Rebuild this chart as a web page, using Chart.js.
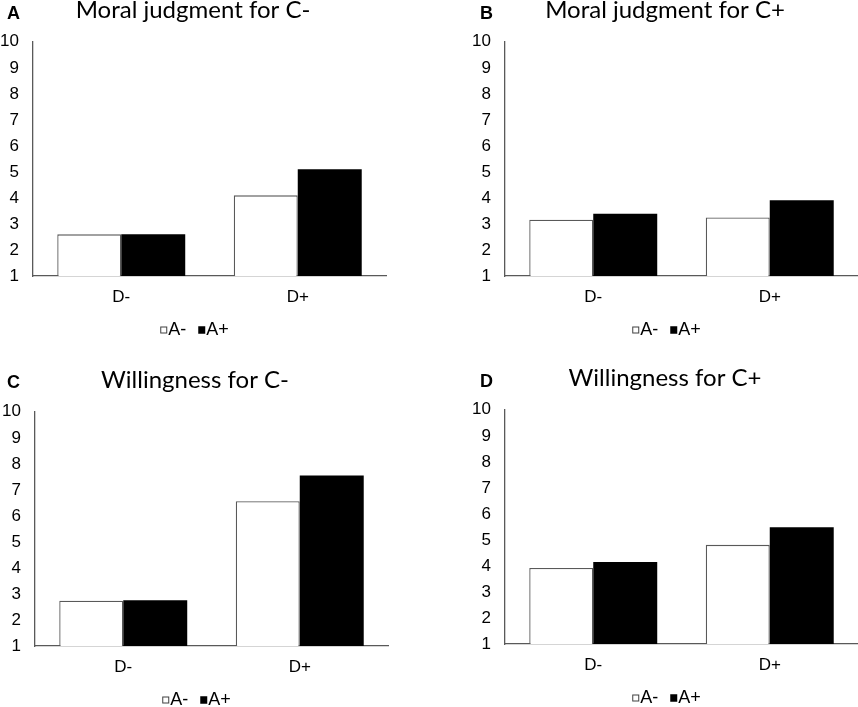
<!doctype html>
<html lang="en">
  <head>
    <meta charset="utf-8">
    <title>Moral judgment and willingness</title>
    <script src="https://cdn.jsdelivr.net/npm/chart.js"></script>
    <style>
      html, body { margin: 0; padding: 0; background: #fff; overflow: hidden; }
      body { width: 858px; height: 707px; position: relative; }
      .panel { position: absolute; width: 400px; height: 349px; }
      .letter { position: absolute; font: bold 18px/18px "Liberation Sans", Arial, sans-serif; color: #000; }
    </style>
  </head>
  <body>

    <div class="panel" style="left:0px; top:0px;"><canvas id="chartA"></canvas></div>
    <div class="panel" style="left:472px; top:0px;"><canvas id="chartB"></canvas></div>
    <div class="panel" style="left:2px; top:370px;"><canvas id="chartC"></canvas></div>
    <div class="panel" style="left:472px; top:368px;"><canvas id="chartD"></canvas></div>

    <div class="letter" style="left:7px; top:4px;">A</div>
    <div class="letter" style="left:480px; top:4px;">B</div>
    <div class="letter" style="left:7px; top:373px;">C</div>
    <div class="letter" style="left:480px; top:372px;">D</div>

    <script>
        // data
        const categories = ['D-', 'D+'];
        const seriesNames = ['A-', 'A+'];
        const yTicks = [1, 2, 3, 4, 5, 6, 7, 8, 9, 10];

        const titleA = 'Moral judgment for C-';
        const aMinusA = [2.6, 4.1];
        const aPlusA = [2.6, 5.1];

        const titleB = 'Moral judgment for C+';
        const aMinusB = [3.16, 3.25];
        const aPlusB = [3.39, 3.91];

        const titleC = 'Willingness for C-';
        const aMinusC = [2.74, 6.56];
        const aPlusC = [2.76, 7.55];

        const titleD = 'Willingness for C+';
        const aMinusD = [3.92, 4.81];
        const aPlusD = [4.15, 5.49];

        const fillColors = ['#ffffff', '#000000'];
        const edgeColors = ['#595959', '#000000'];

        const tickFont = { family: '"Liberation Sans", Arial, sans-serif', size: 17 };
        const legendFont = { family: '"Liberation Sans", Arial, sans-serif', size: 18 };

        // small legend swatch, drawn off-centre so it sits right next to its text
        function swatch(fill, edge) {
            const c = document.createElement('canvas');
            c.width = 20;
            c.height = 10;
            const g = c.getContext('2d');
            g.fillStyle = fill;
            g.fillRect(12, 1.5, 7, 7);
            g.strokeStyle = edge;
            g.lineWidth = 1;
            g.strokeRect(12.5, 2, 6, 6);
            return c;
        }
        const swatches = [swatch(fillColors[0], '#404040'), swatch(fillColors[1], '#000000')];

        function makeChart(id, title, aMinus, aPlus) {
            const data = {
                labels: categories,
                datasets: [
                    {
                        label: seriesNames[0],
                        data: aMinus,
                        backgroundColor: fillColors[0],
                        borderColor: edgeColors[0],
                        borderWidth: 1.3
                    },
                    {
                        label: seriesNames[1],
                        data: aPlus,
                        backgroundColor: fillColors[1],
                        borderColor: edgeColors[1],
                        borderWidth: 0
                    }
                ]
            };

            const config = {
                type: 'bar',
                data,
                options: {
                    responsive: false,
                    animation: false,
                    layout: { padding: { left: 0, right: 14, top: 0, bottom: 0 } },
                    datasets: {
                        bar: { barPercentage: 1, categoryPercentage: 0.725 }
                    },
                    plugins: {
                        title: {
                            display: true,
                            text: title,
                            color: '#000',
                            font: { family: 'Lato, "Open Sans", sans-serif', size: 24, weight: 'normal' },
                            padding: { top: -4, bottom: 17 }
                        },
                        legend: {
                            position: 'bottom',
                            labels: {
                                color: '#000',
                                font: legendFont,
                                usePointStyle: true,
                                boxWidth: 2,
                                boxHeight: 10,
                                padding: 9,
                                generateLabels: (chart) => {
                                    const items = Chart.defaults.plugins.legend.labels.generateLabels(chart);
                                    items.forEach((item, i) => { item.pointStyle = swatches[i]; });
                                    return items;
                                }
                            }
                        },
                        tooltip: { enabled: false }
                    },
                    scales: {
                        x: {
                            afterFit: (scale) => { scale.height = 36; },
                            grid: { display: false, drawTicks: false },
                            border: { display: true, color: '#595959', width: 1.3 },
                            ticks: { color: '#000', font: tickFont, padding: 11 }
                        },
                        y: {
                            min: yTicks[0],
                            max: yTicks[yTicks.length - 1],
                            afterBuildTicks: (scale) => {
                                scale.ticks = yTicks.map(v => ({ value: v }));
                            },
                            afterFit: (scale) => { scale.width = 33; },
                            grid: { display: false, drawTicks: false },
                            border: { display: true, color: '#595959', width: 1.3 },
                            ticks: { color: '#000', font: tickFont, padding: 14 }
                        }
                    }
                }
            };

            const canvas = document.getElementById(id);
            canvas.width = 400;
            canvas.height = 349;
            return new Chart(canvas, config);
        }

        makeChart('chartA', titleA, aMinusA, aPlusA);
        makeChart('chartB', titleB, aMinusB, aPlusB);
        makeChart('chartC', titleC, aMinusC, aPlusC);
        makeChart('chartD', titleD, aMinusD, aPlusD);
    </script>
  </body>
</html>
